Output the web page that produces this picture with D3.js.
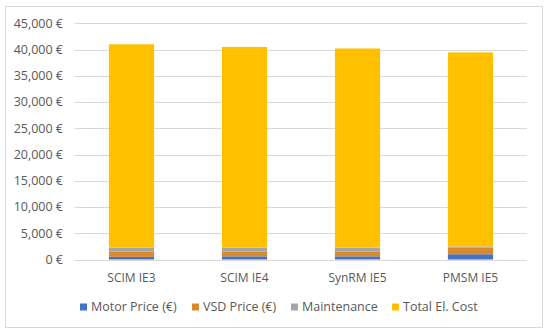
<!DOCTYPE html>
<html><head><meta charset="utf-8">
<script src="https://cdn.jsdelivr.net/npm/d3@7"></script>
<style>body{margin:0;background:#fff;} text{font-family:"Open Sans",Lato,sans-serif;}</style>
</head><body>
<svg id="c" width="550" height="336"></svg>
<script>
const categories = ["SCIM IE3", "SCIM IE4", "SynRM IE5", "PMSM IE5"];
const seriesNames = ["Motor Price (€)", "VSD Price (€)", "Maintenance", "Total El. Cost"];
const motorPrice = [500, 600, 600, 1000];
const vsdPrice = [1000, 900, 900, 1250];
const maintenance = [750, 750, 750, 250];
const totalElCost = [38750, 38250, 37950, 36950];
const yTicks = [0, 5000, 10000, 15000, 20000, 25000, 30000, 35000, 40000, 45000];
const colors = ["#4472C4", "#D9892E", "#A5A5A5", "#FFC000"];

const svg = d3.select("#c");
svg.append("rect").attr("x",5.5).attr("y",6.5).attr("width",537).attr("height",321)
  .attr("fill","#fff").attr("stroke","#D9D9D9");

const x = d3.scaleBand().domain(categories).range([75, 527]).paddingInner(0.6).paddingOuter(0.3);
const y = d3.scaleLinear().domain([0, 45000]).range([259.5, 23.3]);

const fmt = d => d3.format(",")(d) + " €";
svg.append("g").selectAll("line").data(yTicks).join("line")
  .attr("x1",75).attr("x2",527).attr("y1",d=>Math.round(y(d))+0.5).attr("y2",d=>Math.round(y(d))+0.5)
  .attr("stroke","#D9D9D9");
svg.append("g").selectAll("text").data(yTicks).join("text")
  .attr("x",63).attr("y",d=>y(d)).attr("dy","0.35em").attr("text-anchor","end")
  .attr("font-size",12.5).attr("fill","#595959").text(fmt);

const rows = categories.map((c,i)=>({cat:c, a:motorPrice[i], b:vsdPrice[i], m:maintenance[i], t:totalElCost[i]}));
const stack = d3.stack().keys(["a","b","m","t"])(rows);
svg.append("g").selectAll("g").data(stack).join("g").attr("fill",(d,i)=>colors[i])
  .selectAll("rect").data(d=>d).join("rect")
  .attr("x",d=>x(d.data.cat)).attr("width",x.bandwidth())
  .attr("y",d=>y(d[1])).attr("height",d=>y(d[0])-y(d[1]));

svg.append("g").selectAll("text").data(categories).join("text")
  .attr("x",d=>x(d)+x.bandwidth()/2).attr("y",278).attr("dy","0.35em").attr("text-anchor","middle")
  .attr("font-size",12).attr("fill","#595959").text(d=>d);

const legX = [80, 192, 291, 392];
const lg = svg.append("g").selectAll("g").data(seriesNames).join("g")
  .attr("transform",(d,i)=>`translate(${legX[i]},307)`);
lg.append("rect").attr("x",0).attr("y",-3.5).attr("width",7).attr("height",7).attr("fill",(d,i)=>colors[i]);
lg.append("text").attr("x",11).attr("dy","0.35em").attr("font-size",12.5).attr("fill","#595959").text(d=>d);
</script>
</body></html>
